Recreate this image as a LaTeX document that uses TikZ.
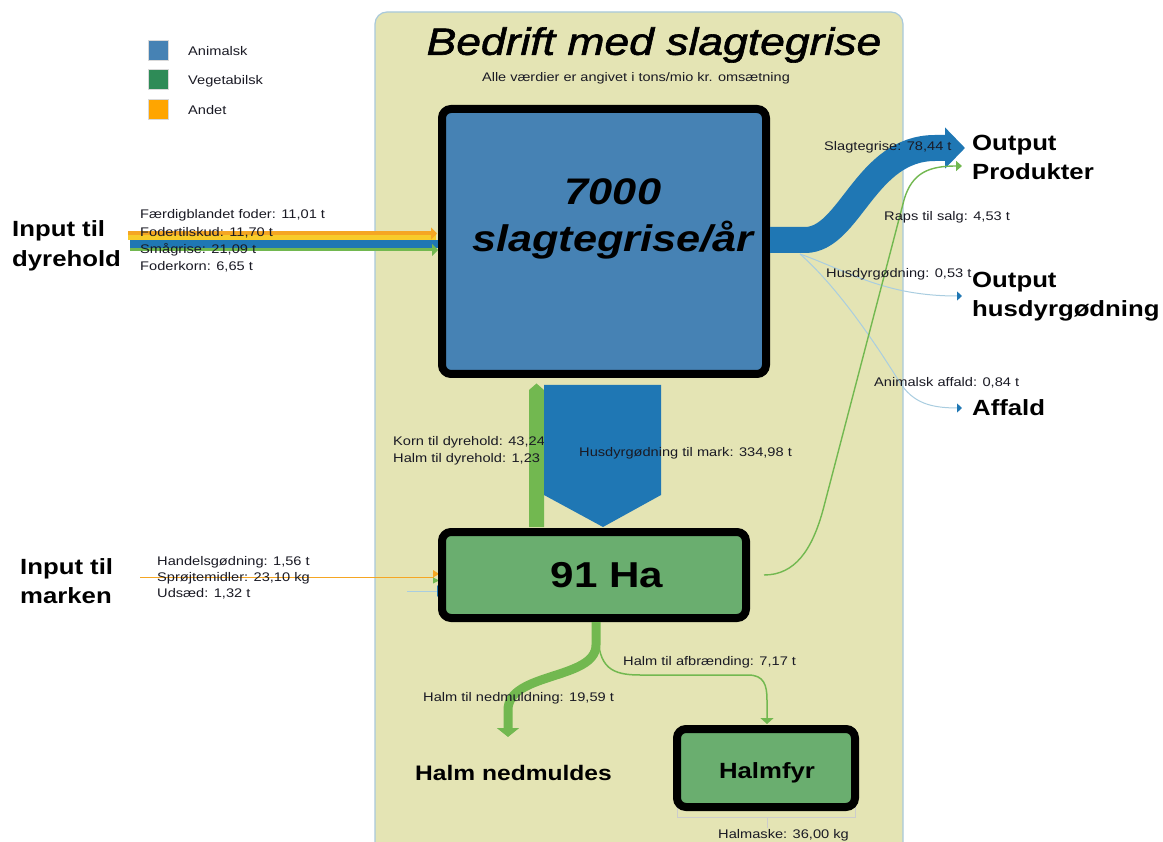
\documentclass[tikz,border=0pt]{standalone}
\usepackage{fontspec}
\setmainfont{Liberation Sans}[FakeStretch=1.17]
\newfontfamily\titlefont{Liberation Sans}[FakeStretch=1.17,FakeBold=1.6]
\usetikzlibrary{arrows.meta}
\definecolor{panel}{HTML}{E4E4B4}
\definecolor{panelline}{HTML}{A9C9DB}
\definecolor{animal}{HTML}{4682B4}
\definecolor{veg}{HTML}{2E8B57}
\definecolor{andet}{HTML}{FFA500}
\definecolor{fblue}{HTML}{1F77B4}
\definecolor{fgreen}{HTML}{72B850}
\definecolor{forange}{HTML}{F5A623}
\definecolor{fyellow}{HTML}{F8CC2A}
\definecolor{lblue}{HTML}{A9CDE0}
\definecolor{fieldfill}{HTML}{6AAE6F}
\definecolor{txt}{HTML}{1A1A24}
\begin{document}
\begin{tikzpicture}[x=1pt,y=-1pt,
  lbl/.style={anchor=west,inner sep=0pt,text=txt,font=\fontsize{12.5}{15}\selectfont},
  big/.style={anchor=west,inner sep=0pt,align=left,font=\fontsize{22}{29.5}\selectfont\bfseries},
  box/.style={draw=black,line width=8pt,rounded corners=9pt,inner sep=0pt},
  boxtxt/.style={inner sep=0pt,font=\fontsize{36}{40}\selectfont\bfseries},
  legsq/.style={draw=black!15,line width=0.6pt,minimum size=20pt,inner sep=0pt},
  thinblue/.style={lblue,line width=1pt,-{Triangle[color=fblue,length=5pt,width=9pt]}},
  thingreen/.style={fgreen,line width=1.4pt,-{Triangle[length=6pt,width=10pt]}}
]
\useasboundingbox (0,0) rectangle (1163,842);
\clip (0,0) rectangle (1163,842);
\fill[white] (0,0) rectangle (1163,842);

% panel
\draw[fill=panel,draw=panelline,line width=1.2pt,rounded corners=12pt] (375,12) rectangle (903,870);

% legend
\node[legsq,fill=animal] (lA) at (158,50) {};
\node[legsq,fill=veg] (lV) at (158,79) {};
\node[legsq,fill=andet] (lO) at (158,109) {};
\node[lbl] at (188,51) {Animalsk};
\node[lbl] at (188,81) {Vegetabilsk};
\node[lbl] at (188,110) {Andet};

% title
\node[inner sep=0pt,font=\fontsize{38}{40}\titlefont\itshape] (title) at (654,45) {Bedrift med slagtegrise};
\node[inner sep=0pt,text=txt,font=\fontsize{12.4}{14}\selectfont] (sub) at (636,78) {Alle værdier er angivet i tons/mio kr. omsætning};

% input flows to dyrehold
\coordinate (iO) at (128,233.5);
\coordinate (iY) at (128,238);
\coordinate (iB) at (130,244.5);
\coordinate (iG) at (130,250);
\draw[fyellow,line width=5pt] (iY) -- (436,238);
\draw[fblue,line width=8pt] (iB) -- (442,244.5);
\draw[fgreen,line width=3pt,-{Triangle[length=6pt,width=12pt]}] (iG) -- (438,250);
\draw[forange,line width=4pt,-{Triangle[length=6pt,width=12pt]}] (iO) -- (437,233.5);

% field inputs
\draw[forange,line width=0.9pt] (140,577) -- (434,577);
\fill[forange] (433,570) -- (439,574) -- (433,577.5) -- cycle;
\fill[fgreen] (433,577.5) -- (439,580.5) -- (433,583.5) -- cycle;
\draw[lblue,line width=0.8pt] (407,591) -- (437,591);
\fill[fblue] (437,585) -- (442,591) -- (437,597) -- cycle;

% green flow from field up to dyrehold
\fill[fgreen] (529,527) -- (529,390) -- (536.5,383.5) -- (544,390) -- (544,527) -- cycle;

% labels under manure arrow
\node[lbl] at (393,442) {Korn til dyrehold: 43,24};
\node[lbl] at (393,459) {Halm til dyrehold: 1,23};

% manure flow
\fill[fblue] (544,385) -- (661,385) -- (661,495) -- (603,527) -- (544,495) -- cycle;

% boxes
\node[box,fill=animal,minimum width=324pt,minimum height=265pt] (main) at (604,241.5) {};
\node[box,fill=fieldfill,minimum width=304pt,minimum height=86pt] (field) at (594,575) {};
\draw[black!20,line width=0.8pt] (677,735) rectangle (855,817);
\draw[black!20,line width=0.8pt] (767,817) -- (767,828);
\node[box,fill=fieldfill,minimum width=178pt,minimum height=78pt] (halmfyr) at (766,768) {};

\node[boxtxt,font=\fontsize{37}{40}\selectfont\bfseries\itshape] at (613,192) {7000};
\node[boxtxt,font=\fontsize{37}{40}\selectfont\bfseries\itshape] at (613,240) {slagtegrise/år};
\node[boxtxt] at (607,575) {91 Ha};
\node[inner sep=0pt,font=\fontsize{22}{24}\selectfont\bfseries] at (767,773) {Halmfyr};

% output flows
\coordinate (outA) at (805,240);
\coordinate (outP) at (965,148);
\draw[fblue,line width=26pt,line cap=butt,-{Triangle[length=20pt,width=40pt]}] (main.east |- outA) -- (outA) .. controls (850,240) and (865,148) .. (935,148) -- (outP);
\coordinate (spl) at (800,254);
\draw[thinblue] (spl) .. controls (850,272) and (885,296) .. (962,296);
\draw[thinblue] (spl) .. controls (835,285) and (870,335) .. (897,378) .. controls (910,400) and (925,408) .. (962,408);
\draw[thingreen] ([xshift=14pt]field.east) .. controls (795,575) and (812,550) .. (823,510) -- (904,200) .. controls (912,172) and (930,166) .. (962,166);

% bottom flows
\draw[fgreen,line width=9pt,-{Triangle[length=9pt,width=22pt]}] ([xshift=2pt]field.south) -- (596,645) .. controls (596,680) and (508,672) .. (508,710) -- (508,737);
\draw[fgreen,line width=1.5pt,-{Triangle[length=6pt,width=13pt]}] (598,632) .. controls (598,668) and (612,675) .. (640,675) -- (748,675) .. controls (764,675) and (767,685) .. (767,700) -- (767,724);

% labels
\node[lbl] at (140,215) {Færdigblandet foder: 11,01 t};
\node[lbl] at (140,233) {Fodertilskud: 11,70 t};
\node[lbl] at (140,250) {Smågrise: 21,09 t};
\node[lbl] at (140,267) {Foderkorn: 6,65 t};
\node[lbl] at (157,562) {Handelsgødning: 1,56 t};
\node[lbl] at (157,578) {Sprøjtemidler: 23,10 kg};
\node[lbl] at (157,594) {Udsæd: 1,32 t};
\node[lbl] at (579,453) {Husdyrgødning til mark: 334,98 t};
\node[lbl] at (824,147) {Slagtegrise: 78,44 t};
\node[lbl] at (884,217) {Raps til salg: 4,53 t};
\node[lbl] at (826,274) {Husdyrgødning: 0,53 t};
\node[lbl] at (874,383) {Animalsk affald: 0,84 t};
\node[lbl] at (623,662) {Halm til afbrænding: 7,17 t};
\node[lbl] at (423,698) {Halm til nedmuldning: 19,59 t};
\node[lbl] at (718,835) {Halmaske: 36,00 kg};

% big labels
\node[big] (inD) at (12,246) {Input til\\dyrehold};
\node[big] (inM) at (20,581) {Input til\\marken};
\node[big] (outPr) at (972,157.5) {Output\\Produkter};
\node[big] (outH) at (972,296.5) {Output\\husdyrgødning};
\node[big] (affald) at (972,408) {Affald};
\node[big,font=\fontsize{21}{24}\selectfont\bfseries] (nedm) at (415,773) {Halm nedmuldes};
\end{tikzpicture}
\end{document}
